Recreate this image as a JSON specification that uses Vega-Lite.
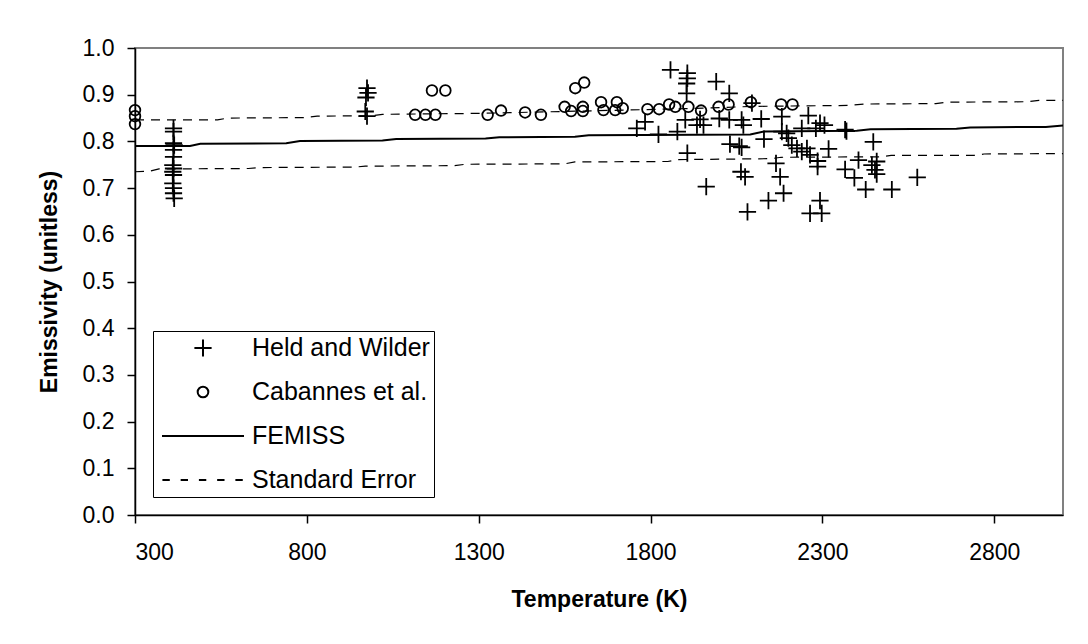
{
  "$schema": "https://vega.github.io/schema/vega-lite/v6.json",
  "autosize": {"type": "none"},
  "width": 928,
  "height": 467,
  "padding": {"left": 135, "top": 48, "right": 25, "bottom": 129},
  "background": "white",
  "config": {
    "font": "Liberation Sans",
    "view": {"stroke": "#808080", "strokeWidth": 2},
    "axis": {
      "grid": false,
      "domainColor": "black",
      "domainWidth": 1.5,
      "tickColor": "black",
      "tickWidth": 1.5,
      "tickSize": 8,
      "labelColor": "black",
      "labelFont": "Liberation Sans",
      "labelFontSize": 23,
      "titleFont": "Liberation Sans",
      "titleFontSize": 23,
      "titleFontWeight": "bold",
      "titleColor": "black"
    }
  },
  "datasets": {
    "points": [
      {"T": 412, "value": 0.828, "series": "Held and Wilder"},
      {"T": 412, "value": 0.821, "series": "Held and Wilder"},
      {"T": 412, "value": 0.796, "series": "Held and Wilder"},
      {"T": 414, "value": 0.792, "series": "Held and Wilder"},
      {"T": 412, "value": 0.782, "series": "Held and Wilder"},
      {"T": 412, "value": 0.767, "series": "Held and Wilder"},
      {"T": 410, "value": 0.749, "series": "Held and Wilder"},
      {"T": 412, "value": 0.742, "series": "Held and Wilder"},
      {"T": 410, "value": 0.735, "series": "Held and Wilder"},
      {"T": 412, "value": 0.728, "series": "Held and Wilder"},
      {"T": 410, "value": 0.710, "series": "Held and Wilder"},
      {"T": 412, "value": 0.700, "series": "Held and Wilder"},
      {"T": 412, "value": 0.689, "series": "Held and Wilder"},
      {"T": 414, "value": 0.678, "series": "Held and Wilder"},
      {"T": 975, "value": 0.914, "series": "Held and Wilder"},
      {"T": 978, "value": 0.904, "series": "Held and Wilder"},
      {"T": 972, "value": 0.894, "series": "Held and Wilder"},
      {"T": 970, "value": 0.864, "series": "Held and Wilder"},
      {"T": 975, "value": 0.854, "series": "Held and Wilder"},
      {"T": 1858, "value": 0.953, "series": "Held and Wilder"},
      {"T": 1907, "value": 0.946, "series": "Held and Wilder"},
      {"T": 1907, "value": 0.935, "series": "Held and Wilder"},
      {"T": 1905, "value": 0.924, "series": "Held and Wilder"},
      {"T": 1905, "value": 0.903, "series": "Held and Wilder"},
      {"T": 1991, "value": 0.928, "series": "Held and Wilder"},
      {"T": 2029, "value": 0.903, "series": "Held and Wilder"},
      {"T": 2095, "value": 0.882, "series": "Held and Wilder"},
      {"T": 1760, "value": 0.828, "series": "Held and Wilder"},
      {"T": 1784, "value": 0.842, "series": "Held and Wilder"},
      {"T": 1823, "value": 0.815, "series": "Held and Wilder"},
      {"T": 1878, "value": 0.821, "series": "Held and Wilder"},
      {"T": 1901, "value": 0.846, "series": "Held and Wilder"},
      {"T": 1907, "value": 0.775, "series": "Held and Wilder"},
      {"T": 1935, "value": 0.835, "series": "Held and Wilder"},
      {"T": 1954, "value": 0.835, "series": "Held and Wilder"},
      {"T": 1944, "value": 0.847, "series": "Held and Wilder"},
      {"T": 1962, "value": 0.703, "series": "Held and Wilder"},
      {"T": 2000, "value": 0.849, "series": "Held and Wilder"},
      {"T": 2029, "value": 0.846, "series": "Held and Wilder"},
      {"T": 2031, "value": 0.794, "series": "Held and Wilder"},
      {"T": 2058, "value": 0.790, "series": "Held and Wilder"},
      {"T": 2065, "value": 0.787, "series": "Held and Wilder"},
      {"T": 2065, "value": 0.846, "series": "Held and Wilder"},
      {"T": 2070, "value": 0.835, "series": "Held and Wilder"},
      {"T": 2063, "value": 0.735, "series": "Held and Wilder"},
      {"T": 2075, "value": 0.724, "series": "Held and Wilder"},
      {"T": 2082, "value": 0.649, "series": "Held and Wilder"},
      {"T": 2122, "value": 0.848, "series": "Held and Wilder"},
      {"T": 2130, "value": 0.805, "series": "Held and Wilder"},
      {"T": 2143, "value": 0.673, "series": "Held and Wilder"},
      {"T": 2165, "value": 0.753, "series": "Held and Wilder"},
      {"T": 2177, "value": 0.724, "series": "Held and Wilder"},
      {"T": 2187, "value": 0.689, "series": "Held and Wilder"},
      {"T": 2182, "value": 0.853, "series": "Held and Wilder"},
      {"T": 2182, "value": 0.821, "series": "Held and Wilder"},
      {"T": 2196, "value": 0.817, "series": "Held and Wilder"},
      {"T": 2201, "value": 0.807, "series": "Held and Wilder"},
      {"T": 2211, "value": 0.792, "series": "Held and Wilder"},
      {"T": 2226, "value": 0.785, "series": "Held and Wilder"},
      {"T": 2240, "value": 0.778, "series": "Held and Wilder"},
      {"T": 2255, "value": 0.785, "series": "Held and Wilder"},
      {"T": 2264, "value": 0.771, "series": "Held and Wilder"},
      {"T": 2259, "value": 0.855, "series": "Held and Wilder"},
      {"T": 2240, "value": 0.828, "series": "Held and Wilder"},
      {"T": 2281, "value": 0.828, "series": "Held and Wilder"},
      {"T": 2293, "value": 0.839, "series": "Held and Wilder"},
      {"T": 2306, "value": 0.835, "series": "Held and Wilder"},
      {"T": 2286, "value": 0.758, "series": "Held and Wilder"},
      {"T": 2286, "value": 0.746, "series": "Held and Wilder"},
      {"T": 2318, "value": 0.784, "series": "Held and Wilder"},
      {"T": 2293, "value": 0.673, "series": "Held and Wilder"},
      {"T": 2264, "value": 0.646, "series": "Held and Wilder"},
      {"T": 2298, "value": 0.646, "series": "Held and Wilder"},
      {"T": 2366, "value": 0.825, "series": "Held and Wilder"},
      {"T": 2370, "value": 0.822, "series": "Held and Wilder"},
      {"T": 2448, "value": 0.799, "series": "Held and Wilder"},
      {"T": 2366, "value": 0.740, "series": "Held and Wilder"},
      {"T": 2393, "value": 0.722, "series": "Held and Wilder"},
      {"T": 2405, "value": 0.760, "series": "Held and Wilder"},
      {"T": 2426, "value": 0.697, "series": "Held and Wilder"},
      {"T": 2444, "value": 0.749, "series": "Held and Wilder"},
      {"T": 2458, "value": 0.757, "series": "Held and Wilder"},
      {"T": 2453, "value": 0.739, "series": "Held and Wilder"},
      {"T": 2458, "value": 0.730, "series": "Held and Wilder"},
      {"T": 2502, "value": 0.697, "series": "Held and Wilder"},
      {"T": 2576, "value": 0.723, "series": "Held and Wilder"},
      {"T": 300, "value": 0.867, "series": "Cabannes et al."},
      {"T": 300, "value": 0.854, "series": "Cabannes et al."},
      {"T": 300, "value": 0.837, "series": "Cabannes et al."},
      {"T": 1115, "value": 0.857, "series": "Cabannes et al."},
      {"T": 1145, "value": 0.857, "series": "Cabannes et al."},
      {"T": 1174, "value": 0.857, "series": "Cabannes et al."},
      {"T": 1164, "value": 0.909, "series": "Cabannes et al."},
      {"T": 1203, "value": 0.909, "series": "Cabannes et al."},
      {"T": 1326, "value": 0.857, "series": "Cabannes et al."},
      {"T": 1365, "value": 0.866, "series": "Cabannes et al."},
      {"T": 1435, "value": 0.862, "series": "Cabannes et al."},
      {"T": 1481, "value": 0.857, "series": "Cabannes et al."},
      {"T": 1550, "value": 0.874, "series": "Cabannes et al."},
      {"T": 1569, "value": 0.865, "series": "Cabannes et al."},
      {"T": 1581, "value": 0.914, "series": "Cabannes et al."},
      {"T": 1607, "value": 0.926, "series": "Cabannes et al."},
      {"T": 1603, "value": 0.874, "series": "Cabannes et al."},
      {"T": 1603, "value": 0.865, "series": "Cabannes et al."},
      {"T": 1656, "value": 0.884, "series": "Cabannes et al."},
      {"T": 1663, "value": 0.867, "series": "Cabannes et al."},
      {"T": 1697, "value": 0.867, "series": "Cabannes et al."},
      {"T": 1702, "value": 0.884, "series": "Cabannes et al."},
      {"T": 1719, "value": 0.871, "series": "Cabannes et al."},
      {"T": 1791, "value": 0.869, "series": "Cabannes et al."},
      {"T": 1825, "value": 0.869, "series": "Cabannes et al."},
      {"T": 1854, "value": 0.879, "series": "Cabannes et al."},
      {"T": 1872, "value": 0.874, "series": "Cabannes et al."},
      {"T": 1910, "value": 0.874, "series": "Cabannes et al."},
      {"T": 1947, "value": 0.866, "series": "Cabannes et al."},
      {"T": 1998, "value": 0.874, "series": "Cabannes et al."},
      {"T": 2027, "value": 0.879, "series": "Cabannes et al."},
      {"T": 2092, "value": 0.884, "series": "Cabannes et al."},
      {"T": 2180, "value": 0.879, "series": "Cabannes et al."},
      {"T": 2213, "value": 0.879, "series": "Cabannes et al."}
    ],
    "lines": [
      {"T": 300, "value": 0.790, "series": "FEMISS", "part": "main"},
      {"T": 460, "value": 0.790, "series": "FEMISS", "part": "main"},
      {"T": 490, "value": 0.795, "series": "FEMISS", "part": "main"},
      {"T": 740, "value": 0.796, "series": "FEMISS", "part": "main"},
      {"T": 780, "value": 0.801, "series": "FEMISS", "part": "main"},
      {"T": 1020, "value": 0.802, "series": "FEMISS", "part": "main"},
      {"T": 1060, "value": 0.805, "series": "FEMISS", "part": "main"},
      {"T": 1320, "value": 0.806, "series": "FEMISS", "part": "main"},
      {"T": 1360, "value": 0.809, "series": "FEMISS", "part": "main"},
      {"T": 1580, "value": 0.810, "series": "FEMISS", "part": "main"},
      {"T": 1620, "value": 0.813, "series": "FEMISS", "part": "main"},
      {"T": 2090, "value": 0.815, "series": "FEMISS", "part": "main"},
      {"T": 2130, "value": 0.821, "series": "FEMISS", "part": "main"},
      {"T": 2400, "value": 0.823, "series": "FEMISS", "part": "main"},
      {"T": 2440, "value": 0.826, "series": "FEMISS", "part": "main"},
      {"T": 2690, "value": 0.827, "series": "FEMISS", "part": "main"},
      {"T": 2730, "value": 0.830, "series": "FEMISS", "part": "main"},
      {"T": 2950, "value": 0.831, "series": "FEMISS", "part": "main"},
      {"T": 3000, "value": 0.834, "series": "FEMISS", "part": "main"},
      {"T": 300, "value": 0.846, "series": "Standard Error", "part": "upper"},
      {"T": 540, "value": 0.846, "series": "Standard Error", "part": "upper"},
      {"T": 570, "value": 0.850, "series": "Standard Error", "part": "upper"},
      {"T": 790, "value": 0.851, "series": "Standard Error", "part": "upper"},
      {"T": 830, "value": 0.854, "series": "Standard Error", "part": "upper"},
      {"T": 990, "value": 0.855, "series": "Standard Error", "part": "upper"},
      {"T": 1020, "value": 0.858, "series": "Standard Error", "part": "upper"},
      {"T": 1300, "value": 0.860, "series": "Standard Error", "part": "upper"},
      {"T": 1600, "value": 0.865, "series": "Standard Error", "part": "upper"},
      {"T": 1900, "value": 0.870, "series": "Standard Error", "part": "upper"},
      {"T": 2100, "value": 0.875, "series": "Standard Error", "part": "upper"},
      {"T": 2380, "value": 0.877, "series": "Standard Error", "part": "upper"},
      {"T": 2420, "value": 0.880, "series": "Standard Error", "part": "upper"},
      {"T": 2630, "value": 0.881, "series": "Standard Error", "part": "upper"},
      {"T": 2660, "value": 0.884, "series": "Standard Error", "part": "upper"},
      {"T": 2900, "value": 0.885, "series": "Standard Error", "part": "upper"},
      {"T": 2930, "value": 0.888, "series": "Standard Error", "part": "upper"},
      {"T": 3000, "value": 0.888, "series": "Standard Error", "part": "upper"},
      {"T": 300, "value": 0.735, "series": "Standard Error", "part": "lower"},
      {"T": 340, "value": 0.736, "series": "Standard Error", "part": "lower"},
      {"T": 370, "value": 0.741, "series": "Standard Error", "part": "lower"},
      {"T": 630, "value": 0.742, "series": "Standard Error", "part": "lower"},
      {"T": 660, "value": 0.744, "series": "Standard Error", "part": "lower"},
      {"T": 940, "value": 0.745, "series": "Standard Error", "part": "lower"},
      {"T": 970, "value": 0.747, "series": "Standard Error", "part": "lower"},
      {"T": 1230, "value": 0.748, "series": "Standard Error", "part": "lower"},
      {"T": 1260, "value": 0.751, "series": "Standard Error", "part": "lower"},
      {"T": 1550, "value": 0.752, "series": "Standard Error", "part": "lower"},
      {"T": 1580, "value": 0.756, "series": "Standard Error", "part": "lower"},
      {"T": 1850, "value": 0.757, "series": "Standard Error", "part": "lower"},
      {"T": 1880, "value": 0.761, "series": "Standard Error", "part": "lower"},
      {"T": 2150, "value": 0.763, "series": "Standard Error", "part": "lower"},
      {"T": 2180, "value": 0.766, "series": "Standard Error", "part": "lower"},
      {"T": 2470, "value": 0.767, "series": "Standard Error", "part": "lower"},
      {"T": 2500, "value": 0.770, "series": "Standard Error", "part": "lower"},
      {"T": 2740, "value": 0.770, "series": "Standard Error", "part": "lower"},
      {"T": 2770, "value": 0.773, "series": "Standard Error", "part": "lower"},
      {"T": 3000, "value": 0.774, "series": "Standard Error", "part": "lower"}
    ]
  },
  "encoding": {
    "x": {
      "field": "T",
      "type": "quantitative",
      "title": "Temperature (K)",
      "scale": {"domain": [300, 3000], "nice": false, "zero": false},
      "axis": {
        "values": [300, 800, 1300, 1800, 2300, 2800],
        "format": "d",
        "labelPadding": 18,
        "titlePadding": 24
      }
    },
    "y": {
      "field": "value",
      "type": "quantitative",
      "title": "Emissivity (unitless)",
      "scale": {"domain": [0, 1], "nice": false},
      "axis": {
        "values": [0, 0.1, 0.2, 0.3, 0.4, 0.5, 0.6, 0.7, 0.8, 0.9, 1.0],
        "format": ".1f",
        "labelPadding": 13,
        "titlePadding": 21
      }
    }
  },
  "layer": [
    {
      "data": {"name": "points"},
      "mark": {"type": "point", "filled": false, "stroke": "black", "strokeWidth": 1.8, "size": 6724, "opacity": 1},
      "encoding": {
        "shape": {
          "field": "series",
          "type": "nominal",
          "scale": {
            "domain": ["Held and Wilder", "Cabannes et al.", "FEMISS", "Standard Error"],
            "range": [
              "M-0.21,0H0.21M0,-0.21V0.21",
              "M-0.13,0A0.13,0.13 0 1,0 0.13,0A0.13,0.13 0 1,0 -0.13,0Z",
              "M-1,0H1",
              "M-0.99,0H-0.81M-0.545,0H-0.365M-0.1,0H0.08M0.345,0H0.525M0.79,0H0.97"
            ]
          },
          "legend": {
            "title": null,
            "orient": "bottom-left",
            "offset": 18,
            "padding": 4,
            "strokeColor": "black",
            "fillColor": "white",
            "labelFont": "Liberation Sans",
            "labelFontSize": 25,
            "labelColor": "black",
            "labelLimit": 400,
            "symbolSize": 6724,
            "symbolStrokeColor": "black",
            "symbolFillColor": "transparent",
            "symbolStrokeWidth": 2,
            "clipHeight": 26,
            "rowPadding": 18,
            "labelOffset": 7,
            "symbolOffset": 4,
            "encode": {
              "symbols": {
                "update": {
                  "strokeWidth": {"signal": "datum.value === 'Standard Error' ? 1.2 : 2"}
                }
              }
            }
          }
        }
      }
    },
    {
      "data": {"name": "lines"},
      "transform": [{"filter": "datum.series === 'Standard Error'"}],
      "mark": {"type": "line", "stroke": "black", "strokeWidth": 1.2, "strokeDash": [9, 7]},
      "encoding": {"detail": {"field": "part", "type": "nominal"}}
    },
    {
      "data": {"name": "lines"},
      "transform": [{"filter": "datum.series === 'FEMISS'"}],
      "mark": {"type": "line", "stroke": "black", "strokeWidth": 2},
      "encoding": {"detail": {"field": "part", "type": "nominal"}}
    }
  ]
}
